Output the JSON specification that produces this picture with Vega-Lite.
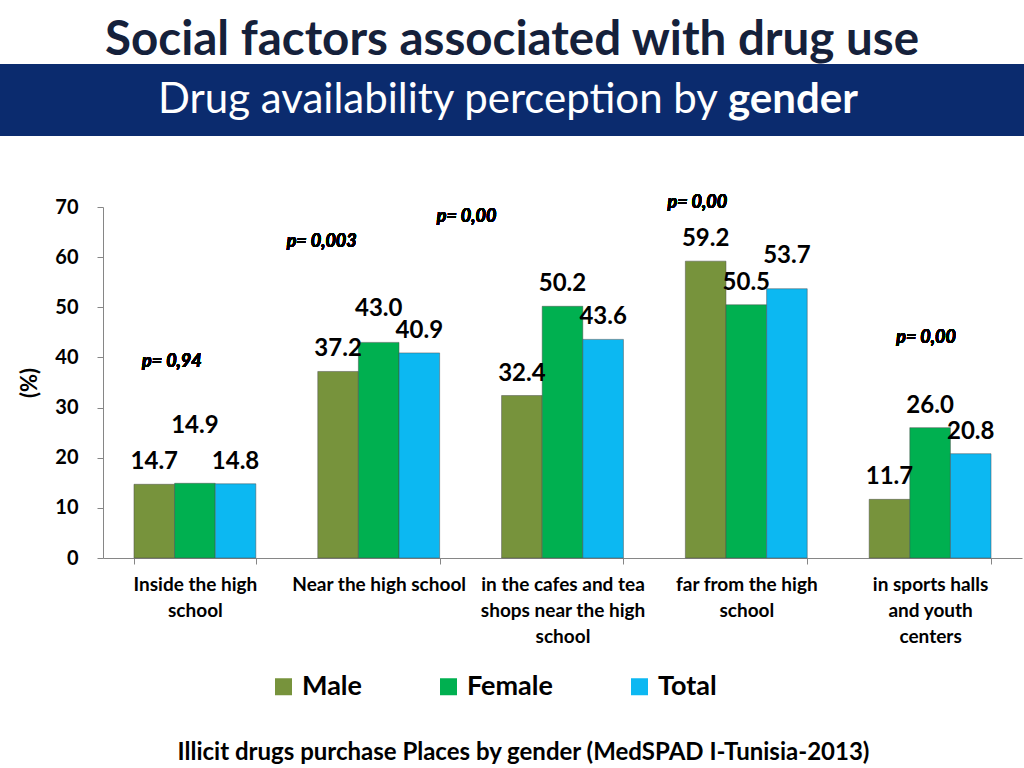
{
  "$schema": "https://vega.github.io/schema/vega-lite/v6.json",
  "padding": {"top": 16, "left": 0, "right": 0, "bottom": 0},
  "background": "white",
  "title": {"text": "Social factors associated with drug use", "fontSize": 47.5, "font": "Lato", "fontWeight": "bold", "color": "#15213b", "anchor": "middle", "offset": 0},
  "config": {"font": "Lato", "view": {"stroke": null}},
  "spacing": 57,
  "resolve": {"scale": {"color": "independent"}, "legend": {"color": "independent"}},
  "vconcat": [
    {
      "width": 1024,
      "height": 72,
      "view": {"fill": "#0b2b6e", "stroke": null},
      "data": {"values": [{"heading": "Drug availability perception by gender"}]},
      "layer": [
        {"mark": {"type": "text", "text": "Drug availability perception by", "align": "right", "baseline": "middle", "dx": 206, "fontSize": 42, "font": "Lato", "color": "white"}, "encoding": {}},
        {"mark": {"type": "text", "text": "gender", "align": "left", "baseline": "middle", "dx": 216, "fontSize": 42, "font": "Lato", "fontWeight": "bold", "color": "white"}, "encoding": {}}
      ]
    },
    {
      "width": 1022,
      "height": 351,
      "data": {"values": [
        {"place": "Inside the high school", "gender": "Male", "value": 14.7},
        {"place": "Inside the high school", "gender": "Female", "value": 14.9},
        {"place": "Inside the high school", "gender": "Total", "value": 14.8},
        {"place": "Near the high school", "gender": "Male", "value": 37.2},
        {"place": "Near the high school", "gender": "Female", "value": 43.0},
        {"place": "Near the high school", "gender": "Total", "value": 40.9},
        {"place": "in the cafes and tea shops near the high school", "gender": "Male", "value": 32.4},
        {"place": "in the cafes and tea shops near the high school", "gender": "Female", "value": 50.2},
        {"place": "in the cafes and tea shops near the high school", "gender": "Total", "value": 43.6},
        {"place": "far from the high school", "gender": "Male", "value": 59.2},
        {"place": "far from the high school", "gender": "Female", "value": 50.5},
        {"place": "far from the high school", "gender": "Total", "value": 53.7},
        {"place": "in sports halls and youth centers", "gender": "Male", "value": 11.7},
        {"place": "in sports halls and youth centers", "gender": "Female", "value": 26.0},
        {"place": "in sports halls and youth centers", "gender": "Total", "value": 20.8}
      ]},
      "layer": [
        {
          "mark": {"type": "bar", "stroke": "#4a4a4a", "strokeWidth": 0.8, "strokeOpacity": 0.6},
          "encoding": {
            "x": {
              "field": "place", "type": "nominal",
              "scale": {"domain": ["Inside the high school", "Near the high school", "in the cafes and tea shops near the high school", "far from the high school", "in sports halls and youth centers"], "range": [103, 1022], "paddingInner": 0.337, "paddingOuter": 0.1685},
              "axis": {
                "title": "Illicit drugs purchase Places  by gender (MedSPAD I-Tunisia-2013)",
                "titleFontSize": 24, "titleFontWeight": "bold", "titleColor": "black",
                "titleX": 523, "titleY": 194, "titleAlign": "center", "titleBaseline": "middle",
                "labelAngle": 0, "labelFontSize": 19, "labelFontWeight": "bold", "labelColor": "black",
                "labelLineHeight": 26, "labelLimit": 300, "labelOverlap": false, "labelPadding": 11, "labelBaseline": "top",
                "labelExpr": "datum.value == 'Inside the high school' ? ['Inside the high', 'school'] : datum.value == 'in the cafes and tea shops near the high school' ? ['in the cafes and tea', 'shops near the high', 'school'] : datum.value == 'far from the high school' ? ['far from the  high', 'school'] : datum.value == 'in sports halls and youth centers' ? ['in  sports halls', 'and youth', 'centers'] : datum.label",
                "tickBand": "extent", "tickSize": 6, "domainColor": "#868686", "tickColor": "#868686", "grid": false
              }
            },
            "xOffset": {"field": "gender", "type": "nominal", "scale": {"domain": ["Male", "Female", "Total"], "paddingInner": 0, "paddingOuter": 0}},
            "y": {
              "field": "value", "type": "quantitative", "scale": {"domain": [0, 70]},
              "axis": {
                "title": "(%)", "values": [0, 10, 20, 30, 40, 50, 60, 70], "offset": -103,
                "titleFontSize": 22, "titleFontWeight": "bold", "titleColor": "black", "titlePadding": 13,
                "labelFontSize": 20, "labelFontWeight": "bold", "labelColor": "black", "labelPadding": 19,
                "tickSize": 6, "grid": false, "domainColor": "#868686", "tickColor": "#868686"
              }
            },
            "color": {
              "field": "gender", "type": "nominal",
              "scale": {"domain": ["Male", "Female", "Total"], "range": ["#77933c", "#00b050", "#0cb8f2"]},
              "legend": {
                "orient": "none", "legendX": 270, "legendY": 466, "direction": "horizontal", "columns": 3,
                "title": null, "symbolType": "square", "symbolSize": 289, "symbolStrokeWidth": 0,
                "labelFontSize": 27, "labelFontWeight": "bold", "labelColor": "black", "labelOffset": 5, "columnPadding": 73
              }
            }
          }
        },
        {
          "transform": [{"filter": "!((datum.place == 'Inside the high school' && datum.gender == 'Female') || (datum.place == 'Near the high school' && datum.gender == 'Female') || (datum.place == 'far from the high school' && datum.gender == 'Total'))"}],
          "mark": {"type": "text", "dy": -22, "fontSize": 24, "fontWeight": "bold", "color": "black", "baseline": "middle"},
          "encoding": {
            "x": {"field": "place", "type": "nominal"},
            "xOffset": {"field": "gender", "type": "nominal"},
            "y": {"field": "value", "type": "quantitative"},
            "text": {"field": "value", "type": "quantitative", "format": ".1f"}
          }
        },
        {
          "transform": [{"filter": "(datum.place == 'Near the high school' && datum.gender == 'Female') || (datum.place == 'far from the high school' && datum.gender == 'Total')"}],
          "mark": {"type": "text", "dy": -33, "fontSize": 24, "fontWeight": "bold", "color": "black", "baseline": "middle"},
          "encoding": {
            "x": {"field": "place", "type": "nominal"},
            "xOffset": {"field": "gender", "type": "nominal"},
            "y": {"field": "value", "type": "quantitative"},
            "text": {"field": "value", "type": "quantitative", "format": ".1f"}
          }
        },
        {
          "transform": [{"filter": "datum.place == 'Inside the high school' && datum.gender == 'Female'"}],
          "mark": {"type": "text", "dy": -57, "fontSize": 24, "fontWeight": "bold", "color": "black", "baseline": "middle"},
          "encoding": {
            "x": {"field": "place", "type": "nominal"},
            "xOffset": {"field": "gender", "type": "nominal"},
            "y": {"field": "value", "type": "quantitative"},
            "text": {"field": "value", "type": "quantitative", "format": ".1f"}
          }
        },
        {
          "mark": {"type": "text", "fontSize": 18, "fontWeight": "bold", "fontStyle": "italic", "color": "black", "baseline": "middle", "dx": -23},
          "encoding": {"x": {"datum": "Inside the high school", "type": "nominal"}, "y": {"datum": 39.1, "type": "quantitative"}, "text": {"value": "p= 0,94"}}
        },
        {
          "mark": {"type": "text", "fontSize": 18, "fontWeight": "bold", "fontStyle": "italic", "color": "black", "baseline": "middle", "dx": -57},
          "encoding": {"x": {"datum": "Near the high school", "type": "nominal"}, "y": {"datum": 63.0, "type": "quantitative"}, "text": {"value": "p= 0,003"}}
        },
        {
          "mark": {"type": "text", "fontSize": 18, "fontWeight": "bold", "fontStyle": "italic", "color": "black", "baseline": "middle", "dx": -96},
          "encoding": {"x": {"datum": "in the cafes and tea shops near the high school", "type": "nominal"}, "y": {"datum": 68.0, "type": "quantitative"}, "text": {"value": "p= 0,00"}}
        },
        {
          "mark": {"type": "text", "fontSize": 18, "fontWeight": "bold", "fontStyle": "italic", "color": "black", "baseline": "middle", "dx": -49},
          "encoding": {"x": {"datum": "far from the high school", "type": "nominal"}, "y": {"datum": 70.8, "type": "quantitative"}, "text": {"value": "p= 0,00"}}
        },
        {
          "mark": {"type": "text", "fontSize": 18, "fontWeight": "bold", "fontStyle": "italic", "color": "black", "baseline": "middle", "dx": -4},
          "encoding": {"x": {"datum": "in sports halls and youth centers", "type": "nominal"}, "y": {"datum": 43.9, "type": "quantitative"}, "text": {"value": "p= 0,00"}}
        }
      ]
    }
  ]
}
